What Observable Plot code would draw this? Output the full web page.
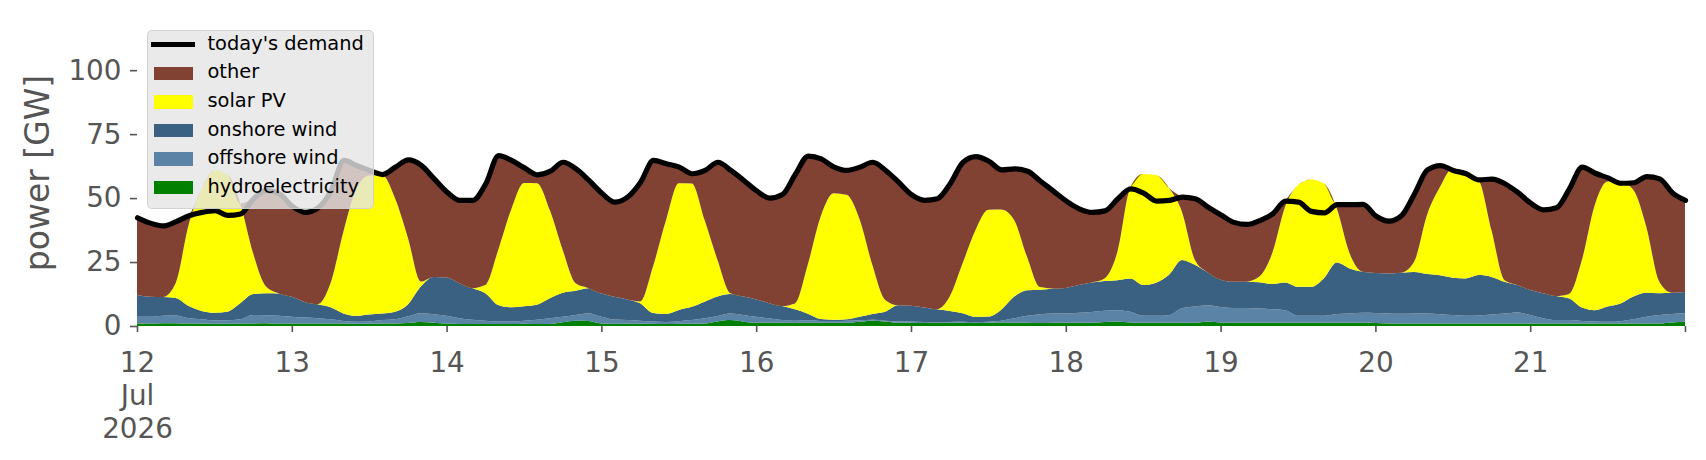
<!DOCTYPE html>
<html>
<head>
<meta charset="utf-8">
<script src="https://cdn.jsdelivr.net/npm/d3@7"></script>
<script src="https://cdn.jsdelivr.net/npm/@observablehq/plot@0.6"></script>
<style>
  body { margin: 0; background: #fff; }
  #wrap { position: relative; width: 1706px; height: 460px; font-family: "DejaVu Sans", sans-serif; }
  #legend { position: absolute; left: 146.5px; top: 30px; width: 227px; height: 178.5px; box-sizing: border-box;
            background: rgba(229,229,229,0.8); border: 1.5px solid rgba(204,204,204,0.8); border-radius: 5px; }
  .row { position: absolute; left: 0; height: 0; }
  .sw { position: absolute; left: 6px; width: 39.5px; height: 13.5px; top: -6.75px; }
  .ln { position: absolute; left: 3.5px; width: 43.5px; height: 5px; top: -2.5px; background: #000; }
  .lab { position: absolute; left: 60px; top: -13px; font-size: 19.4px; line-height: 24px; color: #000; white-space: nowrap; }
</style>
</head>
<body>
<div id="wrap"></div>
<script>
// ---- data (2-hourly readings, 12 Jul 2026 00:00 to 22 Jul 2026 00:00, GW) ----
const seriesNames = ["hydroelectricity", "offshore wind", "onshore wind", "solar PV", "other"];
const seriesColors = ["#008000", "#5b83a6", "#3a6082", "#ffff00", "#814233"];
const legendOrder = ["today's demand", "other", "solar PV", "onshore wind", "offshore wind", "hydroelectricity"];
const dayTicks = [12, 13, 14, 15, 16, 17, 18, 19, 20, 21, 22];
const yTicks = [0, 25, 50, 75, 100];

const demand = [
  42.5, 40.4, 39.3, 41.0, 43.3, 44.6, 45.3, 43.4, 44.0, 49.9, 53.2, 51.9,
  47.0, 44.6, 46.4, 53.0, 64.9, 62.9, 61.0, 59.4, 62.3, 65.1, 63.0, 57.7,
  52.5, 49.3, 49.3, 55.8, 66.8, 64.9, 62.0, 59.3, 60.7, 64.2, 61.6, 57.1,
  52.1, 48.6, 50.6, 56.4, 64.9, 63.6, 62.3, 59.7, 61.0, 64.2, 61.0, 57.1,
  53.0, 50.2, 51.6, 59.5, 66.6, 65.5, 62.3, 61.0, 62.3, 64.2, 61.0, 56.4,
  51.5, 49.3, 49.9, 55.8, 64.2, 66.4, 64.6, 61.2, 61.6, 60.7, 56.8, 52.9,
  49.0, 46.0, 44.6, 45.2, 49.9, 53.8, 52.1, 49.0, 49.3, 50.6, 49.9, 46.6,
  43.6, 40.7, 39.9, 41.4, 44.0, 49.0, 48.6, 45.0, 44.4, 47.6, 47.6, 47.7,
  43.2, 41.2, 43.4, 51.9, 61.2, 62.9, 61.0, 59.7, 57.3, 57.6, 55.8, 52.4,
  48.2, 45.6, 46.4, 53.8, 62.3, 59.9, 58.1, 56.0, 56.2, 58.6, 57.7, 52.2,
  49.3
];
const hydro = [
  1.0, 1.0, 1.1, 1.1, 1.0, 1.0, 0.9, 0.9, 1.0, 1.0, 1.1, 1.0,
  1.0, 1.0, 1.0, 1.0, 1.0, 0.9, 0.9, 1.0, 1.0, 1.2, 1.6, 1.3,
  1.0, 0.8, 0.8, 0.8, 0.8, 0.8, 0.9, 0.8, 0.8, 1.5, 2.1, 2.0,
  1.0, 0.9, 0.9, 0.9, 0.9, 0.8, 0.9, 0.9, 1.0, 1.8, 2.3, 1.7,
  1.3, 1.3, 1.3, 1.3, 1.4, 1.3, 1.3, 1.3, 1.7, 2.1, 1.8, 1.3,
  1.3, 1.2, 1.2, 1.3, 1.3, 1.2, 1.3, 1.4, 1.3, 1.3, 1.2, 1.3,
  1.3, 1.3, 1.3, 1.6, 1.8, 1.4, 1.3, 1.3, 1.3, 1.3, 1.3, 1.8,
  1.4, 1.3, 1.3, 1.3, 1.3, 1.3, 1.3, 1.3, 1.3, 1.3, 1.3, 1.3,
  1.2, 1.0, 1.0, 1.0, 1.0, 1.0, 1.0, 1.0, 1.0, 1.0, 1.0, 1.0,
  1.0, 1.0, 1.0, 1.0, 1.0, 1.0, 1.0, 1.0, 1.0, 1.0, 1.0, 1.4,
  1.7
];
const offshore = [
  2.6, 2.6, 2.9, 3.0, 2.0, 1.6, 1.3, 1.3, 1.6, 3.3, 3.1, 3.0,
  2.6, 2.3, 2.0, 1.6, 1.0, 0.8, 0.9, 1.3, 1.6, 2.6, 3.4, 3.3,
  3.0, 2.2, 1.6, 1.3, 1.0, 1.0, 1.2, 1.6, 2.2, 2.1, 2.2, 3.0,
  2.6, 1.6, 1.4, 1.2, 0.9, 0.8, 1.0, 1.4, 2.0, 2.1, 2.6, 2.6,
  2.3, 1.7, 1.0, 0.8, 0.8, 0.7, 0.7, 0.8, 0.5, 0.3, 0.3, 0.5,
  0.5, 0.4, 0.3, 0.3, 0.4, 0.3, 0.4, 0.7, 1.7, 2.7, 3.4, 3.6,
  3.6, 3.9, 4.2, 4.4, 4.4, 4.2, 2.7, 2.7, 2.9, 5.6, 6.3, 6.3,
  6.0, 5.7, 5.7, 5.5, 5.2, 4.9, 2.7, 2.7, 2.7, 3.4, 3.6, 3.9,
  3.9, 3.9, 3.8, 3.9, 3.9, 3.6, 3.3, 3.0, 3.1, 3.5, 3.9, 4.3,
  3.3, 2.0, 1.3, 1.3, 1.0, 0.8, 0.7, 0.9, 1.6, 2.6, 3.3, 3.3,
  3.3
];
const onshore = [
  8.5, 7.8, 7.3, 6.8, 4.8, 3.3, 3.0, 3.4, 6.3, 8.2, 8.6, 8.7,
  7.8, 6.1, 5.5, 4.7, 2.9, 2.3, 2.7, 2.6, 3.0, 4.6, 10.4, 14.6,
  15.0, 13.7, 12.4, 10.7, 6.4, 5.5, 5.6, 5.9, 7.8, 9.4, 9.5, 9.8,
  9.1, 8.9, 8.1, 6.8, 3.3, 3.1, 4.4, 5.2, 6.5, 7.6, 7.6, 7.2,
  6.8, 5.9, 5.5, 4.4, 2.6, 0.7, 0.4, 0.5, 1.4, 2.3, 3.5, 6.3,
  6.1, 5.6, 5.0, 4.3, 3.3, 2.1, 2.0, 4.3, 8.5, 10.0, 9.6, 9.8,
  10.0, 10.8, 11.5, 11.6, 11.7, 13.0, 12.0, 12.9, 15.8, 18.9, 16.3, 12.8,
  10.7, 10.3, 10.3, 10.3, 9.9, 10.8, 11.3, 11.3, 14.6, 20.1, 17.6, 16.0,
  15.6, 15.6, 16.0, 16.2, 15.4, 15.2, 14.6, 14.6, 15.8, 14.7, 12.4, 10.7,
  9.8, 9.8, 9.4, 8.5, 5.2, 4.4, 5.9, 6.9, 8.9, 9.4, 8.5, 8.3,
  8.3
];
const solar = [
  0, 0, 0, 5.9, 31.7, 47.3, 55.7, 53.7, 39.0, 15.9, 2.6, 0,
  0, 0, 0, 9.4, 31.9, 49.6, 54.3, 54.1, 44.3, 26.1, 2.0, 0,
  0, 0, 0, 3.2, 21.5, 38.1, 48.2, 47.5, 34.5, 16.7, 2.9, 0,
  0, 0, 0, 0.7, 18.2, 36.5, 49.5, 48.2, 31.9, 14.3, 0.3, 0,
  0, 0, 0, 2.3, 19.2, 40.1, 49.5, 48.7, 38.3, 19.2, 4.6, 0,
  0, 0, 0, 5.6, 19.5, 33.9, 41.7, 39.1, 29.8, 13.0, 1.0, 0,
  0, 0, 0, 1.0, 11.1, 35.6, 43.4, 42.1, 33.9, 18.9, 2.0, 0,
  0, 0, 0, 2.2, 12.0, 29.6, 39.7, 42.0, 37.1, 21.2, 5.9, 0,
  0, 0, 0, 4.0, 23.1, 34.5, 42.7, 41.3, 37.1, 18.2, 0.7, 0,
  0, 0, 0, 1.7, 18.5, 41.0, 48.9, 47.6, 41.7, 25.8, 4.6, 0,
  0
];

// ---- build tables ----
const t0 = Date.UTC(2026, 6, 12);
const times = demand.map((_, i) => new Date(t0 + i * 2 * 3600e3));
// "other" = demand not covered by the listed sources
const other = demand.map((d, i) => Math.max(0, d - hydro[i] - offshore[i] - onshore[i] - solar[i]));
const bySeries = {"hydroelectricity": hydro, "offshore wind": offshore, "onshore wind": onshore, "solar PV": solar, "other": other};
const stackData = [];
seriesNames.forEach(s => bySeries[s].forEach((v, i) => stackData.push({t: times[i], s, v})));
const demandData = demand.map((v, i) => ({t: times[i], v}));
const tickDates = dayTicks.map(d => new Date(Date.UTC(2026, 6, d)));

const chart = Plot.plot({
  width: 1706, height: 460,
  marginLeft: 137, marginRight: 21, marginTop: 19, marginBottom: 134,
  style: {fontFamily: "DejaVu Sans", background: "transparent", overflow: "visible"},
  x: {type: "utc", domain: [tickDates[0], tickDates[tickDates.length - 1]]},
  y: {domain: [0, 120]},
  color: {domain: seriesNames, range: seriesColors},
  marks: [
    Plot.areaY(stackData, {x: "t", y: "v", z: "s", fill: "s", order: seriesNames, curve: "monotone-x"}),
    Plot.lineY(demandData, {x: "t", y: "v", stroke: "black", strokeWidth: 5.2, curve: "monotone-x", strokeLinejoin: "round"}),
    Plot.axisX({ticks: tickDates, tickFormat: d => {
        const day = d.getUTCDate();
        if (day === 12) return "12\nJul\n2026";
        if (day === 22) return "";
        return String(day);
      }, tickSize: 6, tickPadding: 16, fontSize: 27.8, color: "#555", strokeWidth: 1.6, lineHeight: 1.19, label: null}),
    Plot.axisY({ticks: yTicks, tickFormat: d => String(d), tickSize: 7, tickPadding: 9, fontSize: 27.8, color: "#555", strokeWidth: 1.6, label: null}),
    Plot.text(["power [GW]"], {frameAnchor: "left", dx: -99, rotate: -90, textAnchor: "middle", lineAnchor: "middle", fontSize: 33, fill: "#555", text: d => d})
  ]
});

const wrap = document.getElementById("wrap");
wrap.appendChild(chart);

// ---- legend (matplotlib-style, inside the axes, upper left) ----
const legend = document.createElement("div");
legend.id = "legend";
const rowTops = [13.5, 42.3, 71, 99.5, 127.8, 156.6];
const colorOf = Object.fromEntries(seriesNames.map((s, i) => [s, seriesColors[i]]));
legendOrder.forEach((name, i) => {
  const row = document.createElement("div");
  row.className = "row";
  row.style.top = rowTops[i] + "px";
  const sw = document.createElement("div");
  if (name === "today's demand") { sw.className = "ln"; }
  else { sw.className = "sw"; sw.style.background = colorOf[name]; }
  const lab = document.createElement("div");
  lab.className = "lab";
  lab.textContent = name;
  row.appendChild(sw); row.appendChild(lab);
  legend.appendChild(row);
});
wrap.appendChild(legend);
</script>
</body>
</html>
